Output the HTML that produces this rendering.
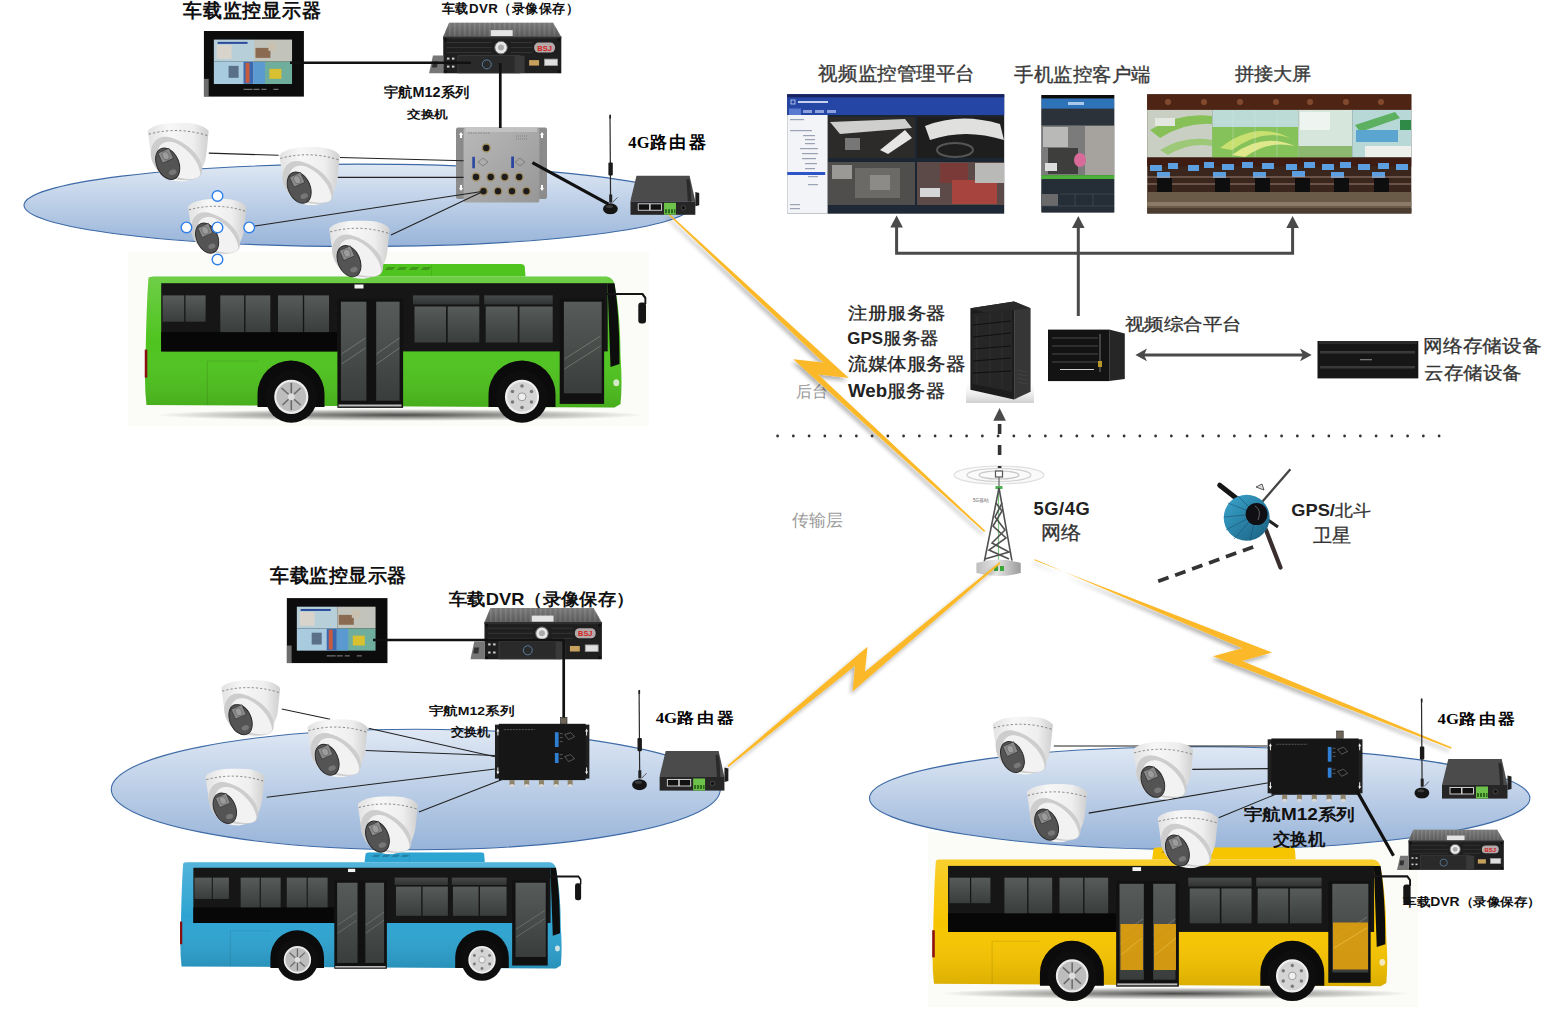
<!DOCTYPE html>
<html><head><meta charset="utf-8">
<style>
html,body{margin:0;padding:0;background:#fff;}
body{width:1545px;height:1014px;overflow:hidden;position:relative;font-family:"Liberation Sans",sans-serif;}
svg{position:absolute;left:0;top:0;}
.t{font-family:"Liberation Sans",sans-serif;fill:#111;}
.b{font-weight:bold;}
.sf{font-family:"Liberation Serif",serif;font-weight:bold;fill:#000;}
.g{fill:#3a3a3a;}
</style></head>
<body>
<svg width="1545" height="1014" viewBox="0 0 1545 1014">
<defs>
  <linearGradient id="ellg" x1="0" y1="0" x2="0" y2="1">
    <stop offset="0" stop-color="#dfe8f4"/>
    <stop offset="1" stop-color="#98b4d9"/>
  </linearGradient>
  <filter id="shd" x="-10%" y="-10%" width="130%" height="130%">
    <feGaussianBlur in="SourceAlpha" stdDeviation="2"/>
    <feOffset dx="-2" dy="2.5" result="o"/>
    <feComponentTransfer><feFuncA type="linear" slope="0.32"/></feComponentTransfer>
    <feMerge><feMergeNode/><feMergeNode in="SourceGraphic"/></feMerge>
  </filter>

  <linearGradient id="camg" x1="0" y1="0" x2="1" y2="0">
    <stop offset="0" stop-color="#e2e2e2"/>
    <stop offset="0.35" stop-color="#f7f7f7"/>
    <stop offset="0.75" stop-color="#eeeeee"/>
    <stop offset="1" stop-color="#cfcfcf"/>
  </linearGradient>
  <symbol id="cam" viewBox="0 0 62 59">
    <path d="M0.5,8 C6,1.5 20,0 34,0 C47,0 57,2.5 61.5,8.3 L59.5,28 C58.5,45 50,56.5 36,58.8 C22,59.5 9,52 4.5,36 Z" fill="url(#camg)"/>
    <path d="M1.5,11.5 Q31,3.5 60.5,13" fill="none" stroke="#555" stroke-width="0.7" stroke-dasharray="2.2 2.2"/>
    <path d="M3.5,30 C4,21 9,14 18,14 C26,14 44,22 52,36 C56,44 56,52 51,55 C40,60 20,57 10,47 C6,42 3.5,36 3.5,30 Z" fill="#cdcdcd"/>
    <path d="M11,27 C13,19 22,17 30,21 C42,27 52,40 53,50 C53.5,55 48,57 38,56 C26,55 14,47 11,38 Z" fill="#f2f2f2"/>
    <ellipse cx="20.5" cy="41" rx="11" ry="16.5" transform="rotate(-24 20.5 41)" fill="#545454" stroke="#2a2a2a" stroke-width="1"/>
    <rect x="12.5" y="27.5" width="12" height="11" transform="rotate(-24 18.5 33)" fill="#8a8a8a" stroke="#333" stroke-width="0.6"/>
    <ellipse cx="18.5" cy="33" rx="3.2" ry="4.2" transform="rotate(-24 18.5 33)" fill="#9c9c9c" stroke="#555" stroke-width="0.5"/>
    <ellipse cx="25.5" cy="49.5" rx="3.8" ry="2.6" transform="rotate(-20 25.5 49.5)" fill="#777"/>
  </symbol>

  <linearGradient id="shade" x1="0" y1="0" x2="0" y2="1">
    <stop offset="0" stop-color="#fff" stop-opacity="0.18"/>
    <stop offset="0.5" stop-color="#fff" stop-opacity="0"/>
    <stop offset="1" stop-color="#000" stop-opacity="0.12"/>
  </linearGradient>
  <linearGradient id="glass" x1="0" y1="0" x2="0" y2="1">
    <stop offset="0" stop-color="#575b5a"/>
    <stop offset="1" stop-color="#393d3c"/>
  </linearGradient>
  <radialGradient id="busshadow" cx="0.5" cy="0.5" r="0.5">
    <stop offset="0" stop-color="#000" stop-opacity="0.7"/>
    <stop offset="1" stop-color="#000" stop-opacity="0"/>
  </radialGradient>
  <symbol id="bus" viewBox="0 0 502 159" preserveAspectRatio="none">
    
    <path d="M230.7,12.5 L232,2 Q233,0 236,0 L376,0 Q380,0 380.3,3 L381,12.5 Z" fill="currentColor"/>
    <g fill="#000" opacity="0.22"><path d="M240,6 l3,-3 h8 l-3,3z"/><path d="M252,6 l3,-3 h8 l-3,3z"/><path d="M264,6 l3,-3 h8 l-3,3z"/><path d="M276,6 l3,-3 h8 l-3,3z"/></g><line x1="287" y1="1" x2="287" y2="12" stroke="#000" stroke-opacity="0.1" stroke-width="0.8"/>
    <path id="busbody" d="M4,14 Q5,12.5 9,12.5 L462,12.5 Q468,13 470,20 Q476,50 476,92 Q478,120 476,140 L470,143.5 L2,141 Q-0.5,120 1,95 Q2,40 4,14 Z" fill="currentColor"/>
    <path d="M4,14 Q5,12.5 9,12.5 L462,12.5 Q468,13 470,20 Q476,50 476,92 Q478,120 476,140 L470,143.5 L2,141 Q-0.5,120 1,95 Q2,40 4,14 Z" fill="url(#shade)"/>
    <rect x="16.7" y="19.2" width="446.5" height="68.2" fill="#161616"/>
    <rect x="16.7" y="68.1" width="176" height="19.3" fill="#070707"/>
    <g fill="url(#glass)">
      <rect x="18.1" y="31.4" width="21.6" height="26.3"/><rect x="41" y="31.4" width="20.1" height="26.3"/>
      <rect x="75.8" y="31.4" width="23.8" height="36.7"/><rect x="101" y="31.4" width="24.8" height="36.7"/>
      <rect x="133.5" y="31.4" width="24.8" height="36.7"/><rect x="159.7" y="31.4" width="24.8" height="36.7"/>
      <rect x="268.4" y="31.4" width="66.4" height="9" opacity="0.75"/>
      <rect x="339.7" y="31.4" width="68.5" height="9" opacity="0.75"/>
      <rect x="270" y="42.5" width="31.5" height="36"/><rect x="303.2" y="42.5" width="31.6" height="36"/>
      <rect x="341.2" y="42.5" width="32" height="36"/><rect x="375" y="42.5" width="33.2" height="36"/>
    </g>
    <rect x="192.9" y="34.9" width="65.7" height="109" fill="#111"/>
    <rect x="196.4" y="37.7" width="25.5" height="99" fill="url(#glass)"/>
    <rect x="231.7" y="37.7" width="23.4" height="99" fill="url(#glass)"/>
    <rect x="194" y="140.5" width="63" height="2" fill="#e8e8e8" opacity="0.8"/>
    <rect x="415.2" y="34.9" width="44.4" height="105" fill="#111"/>
    <rect x="419.4" y="37.7" width="37.8" height="91.6" fill="url(#glass)"/>
    <path d="M463,19.2 L470,19.2 Q475,50 475,100 L466,103 Z" fill="#0d0d0d"/>
    <g stroke="#a9ae9a" stroke-width="0.6" opacity="0.7">
      <line x1="197" y1="90" x2="221" y2="74"/><line x1="197" y1="100" x2="221" y2="84"/>
      <line x1="232" y1="90" x2="255" y2="74"/><line x1="232" y1="100" x2="255" y2="84"/>
      <line x1="420" y1="95" x2="456" y2="72"/><line x1="420" y1="105" x2="456" y2="82"/>
    </g>
    <rect x="210" y="20.5" width="9" height="4" fill="#f4f4f4"/>
    <path d="M113,143 L113,130 A33.5,33.5 0 0 1 180,130 L180,143 Z" fill="#0b0b0b"/>
    <path d="M344,143 L344,130 A33.5,33.5 0 0 1 411,130 L411,143 Z" fill="#0b0b0b"/>
    <circle cx="146.8" cy="132.8" r="26" fill="#0e0e0e"/>
    <circle cx="146.8" cy="132.8" r="16" fill="#bdbdbd" stroke="#ececec" stroke-width="2.2"/>
    <g stroke="#6a6a6a" stroke-width="1.6"><line x1="137" y1="124" x2="156" y2="141"/><line x1="138" y1="141" x2="156" y2="124"/><line x1="146.8" y1="119" x2="146.8" y2="146"/></g>
    <circle cx="146.8" cy="132.8" r="3.5" fill="#ddd"/>
    <circle cx="377.5" cy="132.8" r="26" fill="#0e0e0e"/>
    <circle cx="377.5" cy="132.8" r="16" fill="#d4d4d4" stroke="#efefef" stroke-width="2.2"/>
    <g fill="#7a7a7a"><circle cx="377.5" cy="122" r="1.8"/><circle cx="387" cy="127.5" r="1.8"/><circle cx="387" cy="138" r="1.8"/><circle cx="377.5" cy="143.5" r="1.8"/><circle cx="368" cy="138" r="1.8"/><circle cx="368" cy="127.5" r="1.8"/></g>
    <circle cx="377.5" cy="132.8" r="4" fill="#eee" stroke="#999" stroke-width="1"/>
    <line x1="62.9" y1="97" x2="62.9" y2="141" stroke="#000" stroke-opacity="0.15" stroke-width="0.8"/>
    <line x1="62.9" y1="97" x2="113" y2="97" stroke="#000" stroke-opacity="0.12" stroke-width="0.8"/>
    <rect x="0" y="85.6" width="2.8" height="28" fill="#8a1010"/>
    <path d="M462,30 L498,30 L501,34 L501,40" fill="none" stroke="#151515" stroke-width="2.2"/>
    <rect x="493.8" y="38.4" width="7.7" height="21" rx="3" fill="#151515"/>
    <ellipse cx="471.8" cy="118.8" rx="3" ry="3.5" fill="#f4f4ee" opacity="0.8"/>
  </symbol>

  <linearGradient id="dvrtop" x1="0" y1="0" x2="0" y2="1">
    <stop offset="0" stop-color="#7a7a7a"/><stop offset="1" stop-color="#444"/>
  </linearGradient>
  <pattern id="ridges" width="5" height="20" patternUnits="userSpaceOnUse">
    <rect width="5" height="20" fill="#777"/><rect width="1.6" height="20" fill="#9c9c9c"/>
  </pattern>
  <symbol id="dvr" viewBox="0 0 134 51" preserveAspectRatio="none">
    <polygon points="20.3,0 124.4,0 132.5,14 14.3,14" fill="url(#ridges)"/>
    <polygon points="20.3,0 124.4,0 132.5,14 14.3,14" fill="url(#dvrtop)" opacity="0.55"/>
    <rect x="62" y="7.5" width="22" height="6" fill="#e4e4e4"/>
    <rect x="14.3" y="14" width="118.5" height="37" fill="#1f1f1f"/>
    <rect x="14.3" y="14" width="118.5" height="2" fill="#2e2e2e"/>
    <polygon points="0,51 4,33 14.3,33 14.3,51" fill="#777"/>
    <polygon points="4,39 9,39 8,45 3,45" fill="#333"/>
    <g stroke="#383838" stroke-width="0.9">
      <line x1="18" y1="20" x2="63" y2="20"/><line x1="18" y1="25" x2="63" y2="25"/><line x1="18" y1="30" x2="63" y2="30"/>
      <line x1="82" y1="20" x2="104" y2="20"/><line x1="82" y1="25" x2="104" y2="25"/><line x1="82" y1="30" x2="104" y2="30"/>
    </g>
    <circle cx="72.3" cy="25" r="6.3" fill="#e8e8e8" stroke="#666" stroke-width="1"/>
    <circle cx="72.3" cy="25" r="3" fill="#aaa"/>
    <rect x="105.5" y="20" width="21" height="10" rx="4.5" fill="#b5aaaa"/>
    <text x="116" y="28" font-size="7.5" font-family="Liberation Sans" font-weight="bold" fill="#d62020" text-anchor="middle">BSJ</text>
    <rect x="29" y="33" width="62" height="17.5" fill="#2a2a2a" stroke="#3e3e3e" stroke-width="0.8"/>
    <rect x="86" y="33" width="10" height="17.5" fill="#393939"/>
    <circle cx="58" cy="41.8" r="4.5" fill="none" stroke="#5b86aa" stroke-width="0.9"/>
    <g fill="#cfcfcf"><rect x="18" y="35" width="2.5" height="2"/><rect x="23" y="35" width="2.5" height="2"/><rect x="18" y="43" width="2.5" height="2"/><rect x="23" y="43" width="2.5" height="2"/></g>
    <rect x="100.5" y="37.5" width="10" height="5.5" fill="#c6a05c"/>
    <rect x="116" y="36.5" width="13" height="6.5" fill="#e0e0e0" stroke="#9a9a9a" stroke-width="0.8"/>
    <g fill="#111"><circle cx="16.5" cy="17" r="1.6"/><circle cx="130.5" cy="17" r="1.6"/><circle cx="16.5" cy="49" r="1.6"/><circle cx="130.5" cy="49" r="1.6"/></g>
  </symbol>

  <linearGradient id="swgg" x1="0" y1="0" x2="1" y2="1">
    <stop offset="0" stop-color="#b9b9b9"/><stop offset="1" stop-color="#979797"/>
  </linearGradient>
  <symbol id="swg" viewBox="0 0 92 76" preserveAspectRatio="none">
    <rect x="0" y="0.5" width="91" height="71.5" rx="2" fill="#8c8c8c"/>
    <rect x="7.6" y="1" width="75.7" height="74.5" rx="1.5" fill="url(#swgg)"/>
    <rect x="10" y="1" width="71" height="4" fill="#cfcfcf" opacity="0.6"/>
    <g fill="#fff"><path d="M3,8 l2,-3 l2,3 h-1 v3 h-2 v-3z"/><path d="M3,61 l2,3 l2,-3 h-1 v-3 h-2 v3z"/><path d="M84,8 l2,-3 l2,3 h-1 v3 h-2 v-3z"/><path d="M84,61 l2,3 l2,-3 h-1 v-3 h-2 v3z"/></g>
    <g stroke="#777" stroke-width="0.5" stroke-dasharray="1 1"><line x1="5.5" y1="14" x2="5.5" y2="56"/><line x1="85.5" y1="14" x2="85.5" y2="56"/></g>
    <g fill="#1c1c1c" stroke="#a08a5a" stroke-width="1.3">
      <circle cx="30.2" cy="21" r="3.8"/>
      <circle cx="20" cy="50" r="3.8"/><circle cx="34.7" cy="50" r="3.8"/><circle cx="48.7" cy="50" r="3.8"/><circle cx="63.2" cy="50" r="3.8"/>
      <circle cx="27.5" cy="64.2" r="3.8"/><circle cx="42" cy="64.2" r="3.8"/><circle cx="56" cy="64.2" r="3.8"/><circle cx="70.4" cy="64.2" r="3.8"/>
    </g>
    <rect x="16.3" y="29.8" width="2.6" height="11.5" fill="#2a47a0"/>
    <rect x="55.2" y="29.5" width="2.8" height="11.5" fill="#2a47a0"/>
    <g stroke="#555" stroke-width="0.5" fill="none">
      <path d="M27,31 l5,4 l-5,4 l-5,-4z"/><path d="M64,31 l5,4 l-5,4 l-5,-4z"/>
      <line x1="12" y1="6" x2="34" y2="6" stroke-dasharray="1.5 1"/><line x1="60" y1="9" x2="72" y2="9" stroke-dasharray="1 1"/><line x1="60" y1="12" x2="72" y2="12" stroke-dasharray="1 1"/>
    </g>
  </symbol>

  <symbol id="swb" viewBox="0 0 95 64" preserveAspectRatio="none">
    <rect x="0" y="1" width="95" height="54" fill="#202020"/>
    <rect x="4" y="0" width="87" height="56.5" fill="#161616"/>
    <g fill="#f2f2f2"><path d="M1.5,8 l1.5,-3 l1.5,3 h-1 v4 h-1 v-4z"/><path d="M1.5,48 l1.5,3 l1.5,-3 h-1 v-4 h-1 v4z"/><path d="M90.5,8 l1.5,-3 l1.5,3 h-1 v4 h-1 v-4z"/><path d="M90.5,48 l1.5,3 l1.5,-3 h-1 v-4 h-1 v4z"/></g>
    <g fill="#8e8268"><rect x="14.7" y="56.5" width="5" height="5"/><rect x="29.4" y="56.5" width="5" height="5"/><rect x="44.2" y="56.5" width="5" height="5"/><rect x="59" y="56.5" width="5" height="5"/><rect x="73" y="56.5" width="5" height="5"/></g>
    <g fill="#d8d8d8"><ellipse cx="17.2" cy="62" rx="2.5" ry="1.6"/><ellipse cx="31.9" cy="62" rx="2.5" ry="1.6"/><ellipse cx="46.7" cy="62" rx="2.5" ry="1.6"/><ellipse cx="61.5" cy="62" rx="2.5" ry="1.6"/><ellipse cx="75.5" cy="62" rx="2.5" ry="1.6"/></g>
    <rect x="60.2" y="8.6" width="3.7" height="14.8" fill="#2f7fd3"/>
    <rect x="60.2" y="29.4" width="3.7" height="10" fill="#2f7fd3"/>
    <g stroke="#bbb" stroke-width="0.5" fill="none" opacity="0.8">
      <path d="M70,11 l6,-2 l4,4 l-6,3z"/><path d="M70,33 l6,-2 l4,4 l-6,3z"/>
      <line x1="65" y1="10" x2="68" y2="10"/><line x1="65" y1="14" x2="68" y2="14"/><line x1="65" y1="18" x2="68" y2="18"/>
      <line x1="65" y1="31" x2="68" y2="31"/><line x1="65" y1="35" x2="68" y2="35"/>
      <line x1="9" y1="6" x2="40" y2="6" stroke-dasharray="2 1"/>
    </g>
  </symbol>

  <symbol id="router" viewBox="0 0 70 40" preserveAspectRatio="none">
    <polygon points="6.3,0 59.7,0 65.5,26 0,26" fill="#4b4b4b"/>
    <rect x="0" y="26" width="65.5" height="13.6" fill="#262626"/>
    <path d="M56.5,4 L59,3.5 L60.5,9 L61.5,26 L58,26 Z" fill="#2a2a2a"/><path d="M65.5,16.5 L69.5,17.5 L69.5,30 L65.5,31 Z" fill="#1e1e1e"/>
    <g fill="#111" stroke="#dcdcdc" stroke-width="0.9"><rect x="8" y="28.5" width="11.5" height="6.5"/><rect x="20" y="28.5" width="11.5" height="6.5"/></g>
    <rect x="34" y="27.5" width="12" height="12" fill="#6cc24a"/>
    <g fill="#2d6a1c"><rect x="35" y="34" width="2" height="4"/><rect x="38" y="34" width="2" height="4"/><rect x="41" y="34" width="2" height="4"/><rect x="44" y="34" width="1.5" height="4"/></g>
    <circle cx="53.5" cy="32.5" r="2.2" fill="#111" stroke="#666" stroke-width="0.6"/>
  </symbol>

  <symbol id="ant" viewBox="0 0 16 100" preserveAspectRatio="none">
    <line x1="7.6" y1="1" x2="8.2" y2="88" stroke="#2a2a2a" stroke-width="1.2"/>
    <rect x="7" y="0" width="1.6" height="4" fill="#222"/>
    <rect x="6" y="48" width="4.4" height="13" rx="1" fill="#1a1a1a"/>
    <rect x="6.8" y="80" width="3" height="8" fill="#222"/>
    <path d="M10,88 Q13,85 15,83" stroke="#333" stroke-width="0.8" fill="none"/>
    <ellipse cx="8" cy="94.3" rx="7.4" ry="5.5" fill="#151515"/>
    <ellipse cx="7" cy="92" rx="3.5" ry="1.5" fill="#555" opacity="0.6"/>
  </symbol>

  <symbol id="mon" viewBox="0 0 101 66" preserveAspectRatio="none">
    <rect x="0" y="0" width="100.6" height="66" fill="#0c0c0c"/>
    <rect x="0" y="48" width="5" height="18" fill="#bcbcbc" opacity="0.55"/>
    <rect x="10.2" y="8.7" width="40.3" height="22.1" fill="#b6cfd8"/>
    <rect x="50.5" y="8.7" width="38.2" height="22.1" fill="#c2c4bb"/>
    <rect x="10.2" y="30.8" width="40.3" height="22.4" fill="#a9cbe0"/>
    <rect x="50.5" y="30.8" width="38.2" height="22.4" fill="#6fae9c"/>
    <rect x="14" y="11" width="30" height="2" fill="#2a4a9a"/>
    <rect x="13" y="14" width="15" height="14" fill="#d8d4cc"/>
    <rect x="52" y="17" width="15" height="10" fill="#8a6a50"/>
    <rect x="65" y="12" width="8" height="8" fill="#c9c0b0"/>
    <rect x="40" y="31" width="10" height="22" fill="#3a68b0"/>
    <rect x="42" y="32" width="4" height="20" fill="#c85a40"/>
    <rect x="50.5" y="31" width="11" height="22" fill="#5a9ad0"/>
    <rect x="66" y="38" width="12" height="10" fill="#d8c030"/>
    <rect x="25" y="35" width="10" height="12" fill="#5a7088"/>
    <g fill="#888"><rect x="40" y="58" width="9" height="1"/><rect x="50" y="58" width="6" height="1"/><rect x="58" y="58" width="5" height="1"/><rect x="70" y="58" width="5" height="1"/></g>
  </symbol>

  <linearGradient id="dishg" x1="0" y1="0" x2="1" y2="1">
    <stop offset="0" stop-color="#3aa6cf"/><stop offset="1" stop-color="#1a5e7e"/>
  </linearGradient>
  <linearGradient id="baseg" x1="0" y1="0" x2="1" y2="0">
    <stop offset="0" stop-color="#bdbdbd"/><stop offset="0.45" stop-color="#e6e6e6"/><stop offset="1" stop-color="#9a9a9a"/>
  </linearGradient>
  <linearGradient id="rackbase" x1="0" y1="0" x2="0" y2="1">
    <stop offset="0" stop-color="#fff" stop-opacity="0"/><stop offset="1" stop-color="#cfcfcf"/>
  </linearGradient>
</defs>

<g id="gfx">
<!-- faint photo backgrounds -->
<rect x="128" y="252" width="521" height="174" fill="#fbfbf8"/>
<rect x="928" y="832" width="490" height="175" fill="#fbfbf8"/>

<!-- ellipses -->
<ellipse cx="358" cy="205.3" rx="334" ry="41.2" fill="url(#ellg)" stroke="#3d6aa6" stroke-width="1.1"/>
<ellipse cx="415.8" cy="789.5" rx="304.5" ry="60.3" fill="url(#ellg)" stroke="#3d6aa6" stroke-width="1.1"/>
<ellipse cx="1199.7" cy="798.2" rx="330.2" ry="51.4" fill="url(#ellg)" stroke="#3d6aa6" stroke-width="1.1"/>

<text x="795.9" y="397.3" style="font-family:'Liberation Sans',sans-serif;font-size:16.4px" fill="#9a9a9a">后台</text>
<!-- tower -->
<g id="tower">
  <ellipse cx="999" cy="475" rx="45" ry="9" fill="#fafafa" stroke="#dedede" stroke-width="1.2"/>
  <ellipse cx="999" cy="475" rx="32" ry="6.5" fill="none" stroke="#d0d0d0" stroke-width="1.2"/>
  <ellipse cx="999" cy="475" rx="20" ry="4" fill="none" stroke="#c4c4c4" stroke-width="1.2"/>
  <rect x="995.5" y="471" width="7" height="6" fill="#fff" stroke="#555" stroke-width="1.2"/>
  <line x1="999" y1="477" x2="999" y2="488" stroke="#666" stroke-width="1.2"/>
  <rect x="995.5" y="486" width="7" height="3" fill="#4caf50"/>
  <line x1="998.5" y1="489" x2="998.5" y2="572" stroke="#7cc47c" stroke-width="1.2"/>
  <g stroke="#505050" stroke-width="1.6" fill="none">
    <line x1="999" y1="488" x2="984.3" y2="561.7"/><line x1="999" y1="488" x2="1011.9" y2="560.7"/>
    <polyline points="996,503 1002,511 993,526 1006,538 989,550 1009,559"/>
    <polyline points="1002,503 995,517 1005,530 992,543 1009,552 985,559"/>
  </g>
  <path d="M976.4,563 Q998,556 1020.7,563 L1020.7,573 Q998,579 976.4,573 Z" fill="url(#baseg)"/>
  <g fill="#3aa83a"><rect x="994" y="566" width="4" height="5"/><rect x="1000" y="566" width="4" height="5"/></g>
  <text x="973" y="502" font-size="4.5" fill="#666" font-family="Liberation Sans">5G基站</text>
</g>
<!-- lightning bolts -->
<g fill="#fbb92a" filter="url(#shd)">
  <polygon points="668,214.5 669.5,214 848.9,378 818.3,374.5 985.5,531 984,531.8 793.2,359.2 823.3,362.6"/>
  <polygon points="867.5,646.7 864.9,671.7 999.5,562 1000.5,563.5 852.5,691.4 855.1,665.8 728.5,767 727.5,765.5"/>
  <polygon points="1034.3,559 1035,560.5 1272.1,652.5 1242.2,661 1451.5,747.2 1451,748.8 1213.1,656.2 1242.2,648.2"/>
</g>

<!-- backend dotted line -->
<line x1="777.6" y1="436" x2="1441" y2="436" stroke="#333" stroke-width="2.8" stroke-linecap="round" stroke-dasharray="0 15.75"/>



<!-- buses -->
<ellipse cx="400" cy="415" rx="245" ry="6" fill="url(#busshadow)"/>
<ellipse cx="1175" cy="993.5" rx="236" ry="6" fill="url(#busshadow)"/>
<use href="#bus" x="144.5" y="264" width="502" height="159" color="#4fc41f"/>
<use href="#bus" x="180" y="852.2" width="401.6" height="128.8" color="#2ea4d2"/>
<use href="#bus" x="932.1" y="847.3" width="479" height="154" color="#f7c500"/>


<!-- devices & wires -->
<use href="#mon" x="203.7" y="30.9" width="100.6" height="65.9"/>
<use href="#mon" x="286.6" y="598.1" width="101.3" height="65.2"/>
<use href="#dvr" x="429" y="22.6" width="133.5" height="51"/>
<use href="#dvr" x="470.3" y="608" width="132.8" height="51.6"/>
<use href="#dvr" x="1397" y="829.6" width="107.8" height="40.3"/>
<use href="#swg" x="456" y="127" width="92" height="76"/>
<use href="#swb" x="494.9" y="723.6" width="94.7" height="64"/>
<use href="#swb" x="1267.4" y="738.3" width="95.3" height="64"/>
<use href="#router" x="630.3" y="175.6" width="69.5" height="39.6"/>
<use href="#router" x="659.4" y="751" width="69.5" height="40"/>
<use href="#router" x="1442" y="759" width="70" height="40"/>
<use href="#ant" x="602.4" y="114.5" width="16" height="100"/>
<use href="#ant" x="631.5" y="689.8" width="16" height="100.6"/>
<use href="#ant" x="1413.9" y="698.3" width="16" height="100.4"/>

<g id="wires" stroke="#111" fill="none">
  <!-- top group -->
  <line x1="290" y1="62.8" x2="471" y2="62.8" stroke-width="2.6"/>
  <line x1="500.3" y1="63" x2="500.3" y2="128" stroke-width="2.7"/>
  <line x1="532.4" y1="162.6" x2="608.5" y2="204.2" stroke-width="3.2"/>
  <!-- bottom left -->
  <line x1="373" y1="640" x2="563.7" y2="640" stroke-width="2.6"/>
  <line x1="563.7" y1="640" x2="563.7" y2="720" stroke-width="2.7"/>
  <!-- bottom right -->
  <line x1="1356.7" y1="790.6" x2="1393.5" y2="855.7" stroke-width="3.2"/>
</g>
<g id="camwires" stroke="#222" stroke-width="1.1" fill="none">
  <line x1="208.8" y1="153.1" x2="278.6" y2="155.3"/>
  <line x1="340" y1="157.5" x2="463.6" y2="160.7"/>
  <line x1="337.5" y1="177.4" x2="463.6" y2="177.4"/>
  <line x1="255" y1="226" x2="483.5" y2="191.2"/>
  <line x1="391" y1="235" x2="483.5" y2="191.2"/>
  <line x1="281.8" y1="709" x2="330.2" y2="719.3"/>
  <line x1="368.6" y1="728.2" x2="494.9" y2="756.8"/>
  <line x1="365.6" y1="750.5" x2="494.9" y2="755.5"/>
  <line x1="266.7" y1="797.2" x2="494.9" y2="769"/>
  <line x1="418.9" y1="812" x2="503.5" y2="778.9"/>
  <line x1="1053.8" y1="746" x2="1267.4" y2="746"/>
  <line x1="1192.3" y1="769.4" x2="1268.7" y2="768.6"/>
  <line x1="1088.7" y1="813.1" x2="1268.7" y2="782.8"/>
  <line x1="1218.7" y1="817.8" x2="1275" y2="794.5"/>
</g>
<g fill="#6e6658" stroke="#222" stroke-width="0.6"><rect x="560.5" y="717.5" width="6.5" height="6.5"/><rect x="1336.7" y="731" width="6.5" height="7.5"/></g>
<g fill="#e3a20c" opacity="0.9">
  <rect x="1120.5" y="924" width="22.5" height="46"/><rect x="1154" y="924" width="22" height="46"/>
  <rect x="1333" y="922.5" width="35" height="47"/>
</g>
<g stroke="#f5d060" stroke-width="0.6" opacity="0.8">
  <line x1="1121" y1="955" x2="1142" y2="938"/><line x1="1155" y1="955" x2="1176" y2="938"/><line x1="1334" y1="948" x2="1367" y2="928"/>
</g>
<!-- cameras -->
<g id="cams">
<use href="#cam" x="147.2" y="122.7" width="62" height="59"/>
<use href="#cam" x="278.6" y="147" width="62" height="58.5"/>
<use href="#cam" x="186.2" y="198.8" width="62" height="56.5"/>
<use href="#cam" x="328.4" y="220.5" width="62" height="58.5"/>
<use href="#cam" x="219.7" y="680" width="62" height="57"/>
<use href="#cam" x="306.5" y="719.3" width="62" height="58.2"/>
<use href="#cam" x="204" y="768.5" width="62" height="57.2"/>
<use href="#cam" x="356.8" y="796.2" width="62" height="58.2"/>
<use href="#cam" x="991.8" y="716.5" width="62" height="58.3"/>
<use href="#cam" x="1132.7" y="741.4" width="61" height="58.3"/>
<use href="#cam" x="1026" y="784.1" width="62" height="58.3"/>
<use href="#cam" x="1156.8" y="810" width="62" height="58.3"/>
</g>


<!-- backend top-right -->
<g id="screens">
  <!-- platform screenshot -->
  <rect x="787.2" y="94.3" width="217" height="119.1" fill="#1c2532"/>
  <rect x="787.2" y="94.3" width="217" height="20.7" fill="#2646a6"/>
  <rect x="787.2" y="94.3" width="217" height="3" fill="#16235e"/>
  <rect x="791" y="100" width="4" height="4" fill="none" stroke="#cdd6f0" stroke-width="0.8"/>
  <rect x="798" y="101" width="30" height="2" fill="#c7d0ee"/>
  <rect x="789" y="108.5" width="12" height="6.5" fill="#5a7ad0"/>
  <rect x="803" y="110" width="9" height="3" fill="#8ba0dc"/><rect x="815" y="110" width="9" height="3" fill="#8ba0dc"/><rect x="827" y="110" width="9" height="3" fill="#8ba0dc"/>
  <rect x="787.2" y="115" width="40.4" height="98.4" fill="#f3f4f7"/>
  <g fill="#9aa2b6"><rect x="790" y="119" width="14" height="1.2"/><rect x="790" y="130" width="22" height="1.2"/><rect x="803" y="135" width="12" height="1.2"/><rect x="805" y="139" width="10" height="1.2"/><rect x="805" y="143" width="10" height="1.2"/><rect x="800" y="148" width="18" height="1.2"/><rect x="802" y="153" width="16" height="1.2"/><rect x="802" y="158" width="14" height="1.2"/><rect x="805" y="163" width="12" height="1.2"/><rect x="805" y="168" width="10" height="1.2"/><rect x="808" y="176" width="10" height="1.2"/><rect x="808" y="184" width="10" height="1.2"/><rect x="790" y="204" width="10" height="1.2"/><rect x="790" y="208" width="10" height="1.2"/></g>
  <rect x="787.2" y="172" width="38" height="3" fill="#2d55c8"/>
  <rect x="828" y="117" width="87" height="41" fill="#2c2b2a"/>
  <path d="M830,122 L905,119 L912,128 L840,134 Z" fill="#cfcfcd"/>
  <path d="M880,150 L905,130 L912,138 L888,154 Z" fill="#e6e6e4"/>
  <rect x="845" y="138" width="15" height="12" fill="#777"/>
  <rect x="917" y="117" width="87" height="41" fill="#1e1e1e"/>
  <path d="M925,126 Q960,112 1000,124 L1004,140 Q965,128 930,140 Z" fill="#e0e0de"/>
  <ellipse cx="955" cy="150" rx="18" ry="7" fill="none" stroke="#555" stroke-width="2"/>
  <rect x="828" y="162" width="87" height="43" fill="#4f4e4c"/>
  <rect x="832" y="165" width="20" height="14" fill="#9a9996"/>
  <rect x="855" y="168" width="45" height="30" fill="#6b6a67"/>
  <rect x="870" y="175" width="20" height="15" fill="#8c8b88"/>
  <rect x="917" y="162" width="87" height="43" fill="#5c4a48"/>
  <rect x="940" y="163" width="28" height="20" fill="#7a3a38"/>
  <rect x="952" y="180" width="45" height="24" fill="#a8443e"/>
  <rect x="975" y="163" width="29" height="20" fill="#b9b9b7"/>
  <rect x="920" y="188" width="20" height="9" fill="#d6d6d6"/>
  <rect x="828" y="205.5" width="176" height="8" fill="#1f2835"/>
  <!-- phone -->
  <rect x="1041.5" y="95" width="72.7" height="117.4" fill="#242c36"/>
  <rect x="1041.5" y="95" width="72.7" height="3.5" fill="#0d0d0d"/>
  <rect x="1041.5" y="98.5" width="72.7" height="10.3" fill="#2e72b8"/>
  <rect x="1068" y="102" width="16" height="3" fill="#a9c8ea"/>
  <rect x="1041.5" y="108.8" width="72.7" height="16.6" fill="#2c323a"/>
  <rect x="1041.5" y="125.4" width="72.7" height="49.7" fill="#7b7b7b"/>
  <rect x="1043" y="127" width="25" height="20" fill="#b9bab7"/>
  <rect x="1085" y="126" width="29" height="49" fill="#a6a39e"/>
  <rect x="1048" y="148" width="30" height="26" fill="#3e3e3c"/>
  <ellipse cx="1080" cy="160" rx="6" ry="7" fill="#d96b9a"/>
  <rect x="1045" y="163" width="12" height="8" fill="#ddd"/>
  <rect x="1041.5" y="175.1" width="72.7" height="4.1" fill="#4cb03a"/>
  <rect x="1041.5" y="179.2" width="72.7" height="33.2" fill="#252d36"/>
  <rect x="1042" y="194" width="16" height="12" fill="#6a6a6a"/>
  <g stroke="#4a545e" stroke-width="0.6"><line x1="1060" y1="194" x2="1114" y2="194"/><line x1="1075" y1="194" x2="1075" y2="206"/><line x1="1093" y1="194" x2="1093" y2="206"/><line x1="1041.5" y1="206" x2="1114" y2="206"/></g>
  <!-- video wall -->
  <rect x="1147.2" y="94.3" width="264.1" height="119.1" fill="#3a261c"/>
  <rect x="1147.2" y="94.3" width="264.1" height="15.6" fill="#4e2414"/>
  <g fill="#9a5a38" opacity="0.7"><circle cx="1168" cy="102" r="3"/><circle cx="1204" cy="102" r="3"/><circle cx="1240" cy="102" r="3"/><circle cx="1276" cy="102" r="3"/><circle cx="1310" cy="102" r="3"/><circle cx="1346" cy="102" r="3"/><circle cx="1381" cy="102" r="3"/></g>
  <rect x="1147.2" y="109.9" width="65" height="47.6" fill="#c9cfc2"/>
  <path d="M1150,130 Q1180,112 1212,116 L1212,124 Q1185,122 1160,138 Z" fill="#86c056"/>
  <path d="M1160,150 Q1185,135 1212,140 L1212,146 Q1190,142 1168,155 Z" fill="#9cc878"/>
  <rect x="1155" y="118" width="20" height="8" fill="#e4e6e0"/>
  <rect x="1212.2" y="109.9" width="86" height="47.6" fill="#bcdad6"/>
  <rect x="1212.2" y="127" width="86" height="30.5" fill="#86c25a"/>
  <path d="M1220,148 Q1255,120 1290,138 Q1262,128 1232,150 Z" fill="#c8e070"/>
  <path d="M1232,155 Q1262,132 1295,146 Q1268,140 1245,157 Z" fill="#dfe88a"/>
  <g stroke="#dbe9e6" stroke-width="0.5" opacity="0.7"><line x1="1233" y1="110" x2="1233" y2="157"/><line x1="1255" y1="110" x2="1255" y2="157"/><line x1="1277" y1="110" x2="1277" y2="157"/><line x1="1212" y1="122" x2="1298" y2="122"/></g>
  <rect x="1298.2" y="109.9" width="54" height="47.6" fill="#d6e6dc"/>
  <rect x="1300" y="112" width="30" height="18" fill="#eef4ef"/>
  <rect x="1298.2" y="146" width="54" height="11.5" fill="#8cb870"/>
  <rect x="1352.2" y="109.9" width="59.1" height="47.6" fill="#b8d8d8"/>
  <path d="M1355,125 L1395,112 L1400,118 L1360,132 Z" fill="#5cb060"/>
  <rect x="1356" y="130" width="42" height="12" fill="#5aa6d0"/>
  <rect x="1365" y="146" width="46" height="11" fill="#eeeeea"/>
  <rect x="1400" y="120" width="11" height="10" fill="#2f8a48"/>
  <rect x="1147.2" y="157.5" width="264.1" height="9" fill="#3e1c12"/>
  <g fill="#5b9fe0"><rect x="1150" y="165" width="12" height="6"/><rect x="1168" y="163" width="10" height="6"/><rect x="1188" y="165" width="11" height="6"/><rect x="1204" y="162" width="10" height="6"/><rect x="1222" y="164" width="12" height="6"/><rect x="1242" y="162" width="11" height="6"/><rect x="1262" y="163" width="12" height="6"/><rect x="1286" y="164" width="11" height="6"/><rect x="1304" y="162" width="11" height="6"/><rect x="1322" y="164" width="12" height="6"/><rect x="1340" y="162" width="11" height="6"/><rect x="1358" y="164" width="12" height="6"/><rect x="1378" y="163" width="11" height="6"/><rect x="1396" y="164" width="12" height="6"/>
  <rect x="1157" y="172" width="13" height="6"/><rect x="1213" y="172" width="13" height="6"/><rect x="1253" y="172" width="13" height="6"/><rect x="1292" y="171" width="13" height="6"/><rect x="1331" y="172" width="13" height="6"/><rect x="1372" y="172" width="13" height="6"/></g>
  <g stroke="#b89890" stroke-width="1" opacity="0.8"><line x1="1147" y1="177" x2="1411" y2="177"/><line x1="1147" y1="184" x2="1411" y2="184"/></g>
  <g fill="#0e0e0e"><rect x="1157" y="178" width="15" height="20"/><rect x="1215" y="178" width="15" height="19"/><rect x="1255" y="178" width="15" height="19"/><rect x="1295" y="178" width="15" height="19"/><rect x="1334" y="178" width="15" height="19"/><rect x="1374" y="178" width="15" height="20"/></g>
  <rect x="1147.2" y="192" width="264.1" height="21.4" fill="#6a5a48"/>
  <rect x="1147.2" y="202" width="264.1" height="4" fill="#8a7a66"/><rect x="1147.2" y="208" width="264.1" height="5.4" fill="#4a3c30"/>
</g>

<g id="arrows" stroke="#4a4a4a" stroke-width="3" fill="none">
  <polyline points="896.6,226 896.6,253.3 1292.6,253.3 1292.6,226"/>
  <line x1="1078.3" y1="226" x2="1078.3" y2="316"/>
  <line x1="1141" y1="354.9" x2="1306" y2="354.9"/>
</g>
<g fill="#4a4a4a">
  <polygon points="896.6,215.5 890.3,227.5 902.9,227.5"/>
  <polygon points="1078.3,216 1072,228 1084.6,228"/>
  <polygon points="1292.6,216 1286.3,228 1298.9,228"/>
  <polygon points="1135.4,354.9 1147,348.5 1144,354.9 1147,361.3"/>
  <polygon points="1311.7,354.9 1300,348.5 1303,354.9 1300,361.3"/>
  <polygon points="999.6,407.9 993.3,420.7 1005.9,420.7"/>
</g>
<line x1="999.6" y1="424" x2="999.6" y2="468" stroke="#333" stroke-width="3.6" stroke-dasharray="10 11"/>

<!-- server rack -->
<g id="rack">
  <rect x="966" y="380" width="68" height="23" fill="url(#rackbase)"/>
  <polygon points="970.4,308.3 1014.1,301.5 1014.1,399.5 970.4,389.8" fill="#1c1c1c"/>
  <polygon points="1014.1,301.5 1030.6,308.3 1030.6,391.7 1014.1,399.5" fill="#363636"/>
  <polygon points="970.4,308.3 1014.1,301.5 1030.6,308.3 987,313" fill="#2a2a2a"/>
  <polygon points="972.5,314 1012,309 1012,392 972.5,384" fill="#262626"/>
  <g stroke="#333" stroke-width="0.8"><line x1="977" y1="316" x2="977" y2="384"/><line x1="990" y1="314" x2="990" y2="386"/><line x1="1002" y1="312" x2="1002" y2="388"/></g>
  <g stroke="#101010" stroke-width="1.2"><line x1="973" y1="325" x2="1011" y2="321"/><line x1="973" y1="337" x2="1011" y2="333"/><line x1="973" y1="349" x2="1011" y2="346"/><line x1="973" y1="361" x2="1011" y2="358"/><line x1="973" y1="373" x2="1011" y2="371"/></g>
  <g stroke="#4a4a4a" stroke-width="0.6"><line x1="1017" y1="370" x2="1028" y2="372"/><line x1="1017" y1="374" x2="1028" y2="376"/><line x1="1017" y1="378" x2="1028" y2="380"/><line x1="1017" y1="382" x2="1028" y2="384"/></g>
</g>
<!-- video platform -->
<g id="vplat">
  <polygon points="1109.2,329.6 1124.8,333.5 1124.8,379 1109.2,381.1" fill="#262626"/>
  <rect x="1048" y="329.6" width="61.2" height="51.5" fill="#131313"/>
  <g stroke="#4a4a4a" stroke-width="1"><line x1="1052" y1="338" x2="1098" y2="338"/><line x1="1052" y1="346" x2="1098" y2="346"/><line x1="1052" y1="354" x2="1098" y2="354"/><line x1="1052" y1="362" x2="1098" y2="362"/></g>
  <line x1="1060" y1="369.5" x2="1094" y2="369.5" stroke="#cfcfcf" stroke-width="1.2"/>
  <line x1="1100" y1="334" x2="1100" y2="372" stroke="#555" stroke-width="1.5"/>
  <rect x="1098" y="361" width="4" height="6" fill="#b8962a"/>
</g>
<!-- storage -->
<g id="storage">
  <rect x="1317.5" y="341" width="100.8" height="37.4" fill="#161616"/>
  <rect x="1319" y="341" width="98" height="3" fill="#2a2a2a"/>
  <rect x="1320" y="351" width="95" height="2.5" fill="#3a3a3a"/>
  <rect x="1320" y="366" width="95" height="2.5" fill="#3a3a3a"/>
  <rect x="1360" y="359" width="12" height="1.3" fill="#777"/>
</g>
<!-- satellite -->
<g id="sat">
  <line x1="1158.2" y1="581.3" x2="1254" y2="546.7" stroke="#333" stroke-width="3.7" stroke-dasharray="11 7"/>
  <line x1="1219.7" y1="485.2" x2="1236" y2="498" stroke="#151515" stroke-width="5" stroke-linecap="round"/>
  <line x1="1290.4" y1="469.2" x2="1262" y2="502" stroke="#444" stroke-width="2.2"/>
  <line x1="1266" y1="530" x2="1280.5" y2="567.6" stroke="#3a2e2e" stroke-width="4.2" stroke-linecap="round"/>
  <line x1="1268" y1="520" x2="1278" y2="527" stroke="#222" stroke-width="3"/>
  <circle cx="1246.7" cy="517.8" r="23" fill="url(#dishg)"/>
  <g stroke="#1a5070" stroke-width="0.7" opacity="0.8">
    <line x1="1256" y1="514" x2="1224" y2="517"/><line x1="1256" y1="514" x2="1228" y2="503"/><line x1="1256" y1="514" x2="1238" y2="496"/><line x1="1256" y1="514" x2="1226" y2="530"/><line x1="1256" y1="514" x2="1234" y2="539"/><line x1="1256" y1="514" x2="1250" y2="541"/>
  </g>
  <circle cx="1256.6" cy="514.1" r="11" fill="#0f0f14"/>
  <path d="M1255,506 Q1262,510 1258,520" stroke="#777" stroke-width="0.8" fill="none"/>
  <path d="M1256,487 l6,-3 l2,6 z" fill="#ddd" stroke="#333" stroke-width="0.8"/>
</g>
<!-- selection handles -->
<g fill="#fff" stroke="#2f7fea" stroke-width="1.4">
  <circle cx="186.5" cy="227.4" r="5.3"/><circle cx="217.5" cy="227.4" r="5.3"/><circle cx="249.2" cy="227.4" r="5.3"/><circle cx="217.5" cy="196" r="5.3"/><circle cx="217.5" cy="259.5" r="5.3"/>
</g>

<!-- texts -->
</g>
<g id="texts">
<text id="t1" x="183.10" y="16.84" style="font-family:'Liberation Sans',sans-serif;font-weight:bold;font-size:19.40px" fill="#111" textLength="137.41" lengthAdjust="spacing">车载监控显示器</text>
<text id="t2" x="442.04" y="13.06" style="font-family:'Liberation Sans',sans-serif;font-weight:bold;font-size:13.30px" fill="#111" textLength="136.49" lengthAdjust="spacing">车载DVR（录像保存）</text>
<text id="t3" x="383.96" y="97.28" style="font-family:'Liberation Sans',sans-serif;font-weight:bold;font-size:14.09px" fill="#111" textLength="85.17" lengthAdjust="spacingAndGlyphs">宇航M12系列</text>
<text id="t4" x="407.00" y="117.70" style="font-family:'Liberation Sans',sans-serif;font-weight:bold;font-size:11.16px" fill="#111" textLength="41.10" lengthAdjust="spacingAndGlyphs">交换机</text>
<text id="t5" x="628.32" y="148.06" style="font-family:'Liberation Serif',serif;font-weight:bold;font-size:16.50px" fill="#000" textLength="77.58" lengthAdjust="spacing">4G路<tspan dx="2.5">由</tspan><tspan dx="2.5">器</tspan></text>
<text id="t6" x="818.46" y="80.34" style="font-family:'Liberation Sans',sans-serif;font-size:18.58px" fill="#3a3a3a" stroke="#3a3a3a" stroke-width="0.35" textLength="156.23" lengthAdjust="spacingAndGlyphs">视频监控管理平台</text>
<text id="t7" x="1014.42" y="80.64" style="font-family:'Liberation Sans',sans-serif;font-size:18.58px" fill="#3a3a3a" stroke="#3a3a3a" stroke-width="0.35" textLength="135.97" lengthAdjust="spacingAndGlyphs">手机监控客户端</text>
<text id="t8" x="1234.64" y="80.24" style="font-family:'Liberation Sans',sans-serif;font-size:18.30px" fill="#3a3a3a" stroke="#3a3a3a" stroke-width="0.35" textLength="76.36" lengthAdjust="spacingAndGlyphs">拼接大屏</text>
<text id="t9" x="848.46" y="318.72" style="font-family:'Liberation Sans',sans-serif;font-size:17.18px" fill="#222" stroke="#222" stroke-width="0.3" textLength="96.89" lengthAdjust="spacingAndGlyphs">注册服务器</text>
<text id="t10" x="847.36" y="344.22" style="font-family:'Liberation Sans',sans-serif;font-size:17.28px" fill="#222" stroke="#222" stroke-width="0.3" textLength="91.11" lengthAdjust="spacingAndGlyphs"><tspan font-weight="bold" stroke-width="0" font-size="15.6">GPS</tspan>服务器</text>
<text id="t11" x="848.46" y="370.30" style="font-family:'Liberation Sans',sans-serif;font-size:17.89px" fill="#222" stroke="#222" stroke-width="0.3" textLength="116.88" lengthAdjust="spacingAndGlyphs">流媒体服务器</text>
<text id="t12" x="848.06" y="396.54" style="font-family:'Liberation Sans',sans-serif;font-size:18.13px" fill="#222" stroke="#222" stroke-width="0.3" textLength="96.87" lengthAdjust="spacingAndGlyphs"><tspan font-weight="bold" stroke-width="0" font-size="17.5">Web</tspan>服务器</text>
<text id="t13" x="1124.94" y="329.60" style="font-family:'Liberation Sans',sans-serif;font-size:17.01px" fill="#333" stroke="#333" stroke-width="0.3" textLength="117.06" lengthAdjust="spacingAndGlyphs">视频综合平台</text>
<text id="t14" x="1423.30" y="352.44" style="font-family:'Liberation Sans',sans-serif;font-size:18.28px" fill="#333" stroke="#333" stroke-width="0.3" textLength="118.32" lengthAdjust="spacingAndGlyphs">网络存储设备</text>
<text id="t15" x="1424.10" y="378.68" style="font-family:'Liberation Sans',sans-serif;font-size:18.18px" fill="#333" stroke="#333" stroke-width="0.3" textLength="97.70" lengthAdjust="spacingAndGlyphs">云存储设备</text>
<text id="t16" x="1041.30" y="538.96" style="font-family:'Liberation Sans',sans-serif;font-size:18.56px" fill="#333" stroke="#333" stroke-width="0.3" textLength="40.25" lengthAdjust="spacingAndGlyphs">网络</text>
<text id="t17" x="1312.50" y="541.70" style="font-family:'Liberation Sans',sans-serif;font-size:19.20px" fill="#333" stroke="#333" stroke-width="0.3" textLength="38.45" lengthAdjust="spacing">卫星</text>
<text id="t18" x="1291.34" y="515.98" style="font-family:'Liberation Sans',sans-serif;font-size:16.31px" fill="#333" stroke="#333" stroke-width="0.3" textLength="79.47" lengthAdjust="spacingAndGlyphs"><tspan font-weight="bold" fill="#222" stroke-width="0">GPS/</tspan>北斗</text>
<text id="t19" x="792.08" y="526.44" style="font-family:'Liberation Sans',sans-serif;font-size:16.60px" fill="#9a9a9a" textLength="50.82" lengthAdjust="spacing">传输层</text>
<text id="t20" x="1033.48" y="515.46" style="font-family:'Liberation Sans',sans-serif;font-weight:bold;font-size:18.30px" fill="#222" textLength="56.20" lengthAdjust="spacing">5G/4G</text>
<text id="t21" x="269.96" y="581.92" style="font-family:'Liberation Sans',sans-serif;font-weight:bold;font-size:19.40px" fill="#111" textLength="136.33" lengthAdjust="spacing">车载监控显示器</text>
<text id="t22" x="449.08" y="605.22" style="font-family:'Liberation Sans',sans-serif;font-weight:bold;font-size:16.96px" fill="#111" textLength="185.26" lengthAdjust="spacingAndGlyphs">车载DVR（录像保存）</text>
<text id="t23" x="428.60" y="714.88" style="font-family:'Liberation Sans',sans-serif;font-weight:bold;font-size:11.53px" fill="#111" textLength="85.72" lengthAdjust="spacingAndGlyphs">宇航M12系列</text>
<text id="t24" x="450.92" y="735.50" style="font-family:'Liberation Sans',sans-serif;font-weight:bold;font-size:11.78px" fill="#111" textLength="39.36" lengthAdjust="spacingAndGlyphs">交换机</text>
<text id="t25" x="655.66" y="723.28" style="font-family:'Liberation Serif',serif;font-weight:bold;font-size:14.90px" fill="#000" textLength="78.17" lengthAdjust="spacingAndGlyphs">4G路<tspan dx="2.5">由</tspan><tspan dx="2.5">器</tspan></text>
<text id="t26" x="1243.60" y="819.52" style="font-family:'Liberation Sans',sans-serif;font-weight:bold;font-size:16.30px" fill="#111" textLength="111.52" lengthAdjust="spacingAndGlyphs">宇航M12系列</text>
<text id="t27" x="1272.92" y="844.88" style="font-family:'Liberation Sans',sans-serif;font-weight:bold;font-size:16.92px" fill="#111" textLength="51.90" lengthAdjust="spacingAndGlyphs">交换机</text>
<text id="t28" x="1437.56" y="723.68" style="font-family:'Liberation Serif',serif;font-weight:bold;font-size:14.80px" fill="#000" textLength="77.72" lengthAdjust="spacingAndGlyphs">4G路<tspan dx="2.5">由</tspan><tspan dx="2.5">器</tspan></text>
<text id="t29" x="1403.00" y="906.30" style="font-family:'Liberation Sans',sans-serif;font-weight:bold;font-size:12.33px" fill="#111" textLength="138.00" lengthAdjust="spacingAndGlyphs">车载DVR（录像保存）</text>
</g>
</svg>
</body></html>
